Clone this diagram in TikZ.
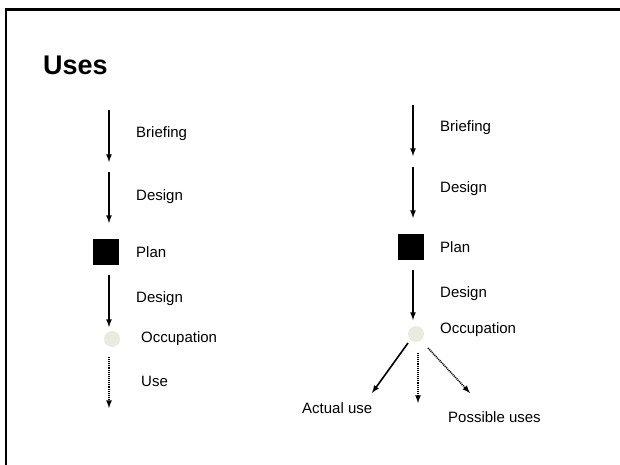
\documentclass[tikz,border=0pt]{standalone}
\usepackage{fontspec}
\setmainfont{Liberation Sans}
\usetikzlibrary{calc, arrows}
\definecolor{occgrey}{RGB}{236,234,224}

\begin{document}
\begin{tikzpicture}[x=1pt,y=-1pt,>=latex,
        lbl/.style={anchor=west, inner sep=0pt, font=\fontsize{15}{18}\selectfont},
        flow/.style={->, line width=1.6pt},
        maybe/.style={->, line width=1.6pt, dash pattern=on 1pt off 0.9pt},
        plan/.style={fill=black, minimum size=26pt, inner sep=0pt},
        occ/.style={circle, fill=occgrey, minimum size=16pt, inner sep=0pt}]
        \useasboundingbox (0,0) rectangle (620,465);
        \draw[line width=2.2pt] (6,467) -- (6,9.5) -- (622,9.5);
        \node[anchor=base west, inner sep=0pt, font=\fontsize{27}{30}\bfseries\selectfont] (title) at (43,75) {Uses};

        % left: one line from briefing to use
        \node[plan] (planL) at (106,252) {};
        \node[occ] (occL) at (112,339) {};
        \node[lbl] (briefL) at (136,134) {Briefing};
        \node[lbl] (designL) at (136,197) {Design};
        \node[lbl] (planLbl) at (136,252) {Plan};
        \node[lbl] (redesignL) at (136,299) {Design};
        \node[lbl] (occLbl) at (141,339) {Occupation};
        \node[lbl] (useL) at (141,381) {Use};
        \coordinate (l1) at (109,110);
        \coordinate (l2) at (109,162);
        \coordinate (l3) at (109,172);
        \coordinate (l4) at (109,223);
        \coordinate (l5) at (109,275);
        \coordinate (l6) at (109,327);
        \coordinate (l7) at (109,357);
        \coordinate (l8) at (109,408);
        \draw[flow] (l1) -- (l2);
        \draw[flow] (l3) -- (l4);
        \draw[flow] (l5) -- (l6);
        \draw[maybe] (l7) -- (l8);

        % right: occupation splits into uses
        \node[plan] (planR) at (411,247) {};
        \node[occ] (occR) at (416,334) {};
        \node[lbl] (briefR) at (440,128) {Briefing};
        \node[lbl] (designR) at (440,189) {Design};
        \node[lbl] (planRbl) at (440,247) {Plan};
        \node[lbl] (redesignR) at (440,294) {Design};
        \node[lbl] (occRbl) at (440,330) {Occupation};
        \node[lbl] (actual) at (302,408) {Actual use};
        \node[lbl] (possible) at (448,417) {Possible uses};
        \coordinate (r1) at (413,105);
        \coordinate (r2) at (413,156);
        \coordinate (r3) at (413,167);
        \coordinate (r4) at (413,218);
        \coordinate (r5) at (413,270);
        \coordinate (r6) at (413,320);
        \draw[flow] (r1) -- (r2);
        \draw[flow] (r3) -- (r4);
        \draw[flow] (r5) -- (r6);
        \coordinate (u1) at (408,343);
        \coordinate (u2) at (372,393);
        \coordinate (v1) at (418,353);
        \coordinate (v2) at (418,403);
        \coordinate (w1) at (428,348);
        \coordinate (w2) at (470,393);
        \draw[flow] (u1) -- (u2);
        \draw[maybe] (v1) -- (v2);
        \draw[maybe] (w1) -- (w2);
\end{tikzpicture}
\end{document}
